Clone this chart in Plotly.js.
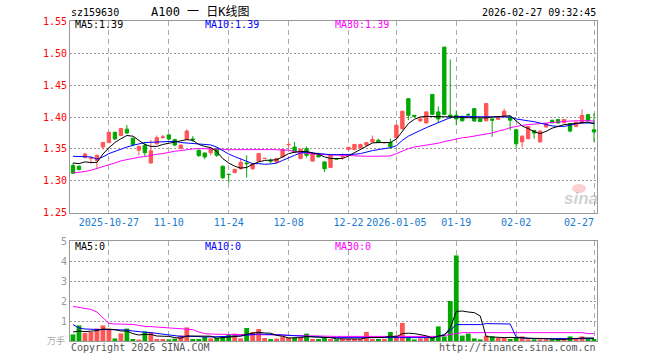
<!DOCTYPE html>
<html><head><meta charset="utf-8">
<script src="https://cdn.plot.ly/plotly-3.0.1.min.js"></script>
<style>html,body{margin:0;padding:0;background:#fff;}#chart{width:660px;height:360px;}</style>
</head><body><div id="chart"></div>
<script>
const dates = ['2025-10-17','2025-10-20','2025-10-21','2025-10-22','2025-10-23','2025-10-24','2025-10-27','2025-10-28','2025-10-29','2025-10-30','2025-10-31',
'2025-11-03','2025-11-04','2025-11-05','2025-11-06','2025-11-07','2025-11-10','2025-11-11','2025-11-12','2025-11-13','2025-11-14','2025-11-17','2025-11-18','2025-11-19','2025-11-20','2025-11-21','2025-11-24','2025-11-25','2025-11-26','2025-11-27','2025-11-28',
'2025-12-01','2025-12-02','2025-12-03','2025-12-04','2025-12-05','2025-12-08','2025-12-09','2025-12-10','2025-12-11','2025-12-12','2025-12-15','2025-12-16','2025-12-17','2025-12-18','2025-12-19','2025-12-22','2025-12-23','2025-12-24','2025-12-25','2025-12-26','2025-12-29','2025-12-30','2025-12-31',
'2026-01-05','2026-01-06','2026-01-07','2026-01-08','2026-01-09','2026-01-12','2026-01-13','2026-01-14','2026-01-15','2026-01-16','2026-01-19','2026-01-20','2026-01-21','2026-01-22','2026-01-23','2026-01-26','2026-01-27','2026-01-28','2026-01-29','2026-01-30',
'2026-02-02','2026-02-03','2026-02-04','2026-02-05','2026-02-06','2026-02-09','2026-02-10','2026-02-11','2026-02-12','2026-02-13','2026-02-24','2026-02-25','2026-02-26','2026-02-27'];

const openP = [1.324,1.323,1.337,1.335,1.332,1.353,1.360,1.376,1.371,1.381,
 1.3667,1.348,1.3557,1.328,1.358,1.368,1.372,1.3646,1.351,1.3646,
 1.3656,1.348,1.3437,1.344,1.351,1.323,1.3104,1.313,1.319,1.328,
 1.319,1.331,1.335,1.332,1.3295,1.3375,1.3565,1.353,1.335,1.3505,
 1.331,1.340,1.3297,1.321,1.335,1.3375,1.349,1.349,1.352,1.356,
 1.361,1.3635,1.3595,1.360,1.3677,1.382,1.4287,1.4026,1.394,1.3906,
 1.4354,1.408,1.5094,1.403,1.4026,1.401,1.4038,1.413,1.397,1.394,
 1.397,1.3964,1.401,1.400,1.380,1.361,1.366,1.379,1.361,1.3844,
 1.3948,1.396,1.391,1.3896,1.3854,1.391,1.4036,1.380];
const highP = [1.328,1.324,1.344,1.3375,1.341,1.361,1.377,1.377,1.383,1.3875,
 1.368,1.355,1.361,1.3646,1.371,1.372,1.373,1.366,1.357,1.381,
 1.370,1.349,1.344,1.352,1.352,1.324,1.311,1.319,1.335,1.340,
 1.328,1.344,1.336,1.335,1.336,1.3505,1.361,1.361,1.350,1.354,
 1.344,1.344,1.330,1.342,1.336,1.343,1.353,1.358,1.358,1.361,
 1.371,1.366,1.3605,1.366,1.389,1.410,1.429,1.403,1.401,1.409,
 1.436,1.4167,1.5094,1.490,1.4104,1.402,1.406,1.414,1.398,1.422,
 1.398,1.401,1.413,1.401,1.381,1.371,1.386,1.380,1.379,1.391,
 1.396,1.397,1.397,1.390,1.393,1.412,1.405,1.406];
const lowP = [1.311,1.316,1.335,1.327,1.319,1.349,1.359,1.364,1.370,1.373,
 1.354,1.340,1.3375,1.327,1.357,1.366,1.364,1.354,1.349,1.364,
 1.361,1.3375,1.3338,1.340,1.3375,1.303,1.297,1.312,1.318,1.305,
 1.317,1.330,1.334,1.328,1.327,1.337,1.3505,1.344,1.334,1.3365,
 1.330,1.337,1.314,1.320,1.333,1.333,1.348,1.348,1.351,1.355,
 1.360,1.359,1.359,1.350,1.367,1.380,1.395,1.399,1.392,1.390,
 1.403,1.3906,1.403,1.397,1.387,1.393,1.402,1.393,1.392,1.393,
 1.369,1.396,1.400,1.379,1.352,1.352,1.365,1.366,1.360,1.383,
 1.390,1.390,1.390,1.376,1.384,1.390,1.393,1.361];
const closeP = [1.312,1.318,1.342,1.336,1.340,1.360,1.376,1.3656,1.382,1.375,
 1.357,1.354,1.344,1.347,1.3677,1.3688,1.3656,1.356,1.356,1.378,
 1.3646,1.3396,1.3375,1.351,1.340,1.305,1.310,1.318,1.329,1.327,
 1.327,1.3427,1.3352,1.331,1.335,1.349,1.357,1.345,1.3495,1.340,
 1.3427,1.3375,1.319,1.341,1.334,1.338,1.3526,1.357,1.357,1.360,
 1.365,1.360,1.360,1.354,1.387,1.409,1.4026,1.401,1.397,1.408,
 1.4042,1.397,1.404,1.400,1.397,1.394,1.4034,1.3937,1.393,1.421,
 1.395,1.400,1.409,1.395,1.358,1.370,1.385,1.375,1.378,1.3896,
 1.391,1.3906,1.396,1.378,1.3917,1.4026,1.394,1.3766];

const ma5 = [1.328,1.327,1.3297,1.3287,1.329,1.342,1.352,1.360,1.366,1.371,
 1.370,1.3635,1.357,1.354,1.354,1.357,1.359,1.360,1.362,1.3646,
 1.3635,1.357,1.354,1.352,1.346,1.335,1.328,1.323,1.320,1.321,
 1.326,1.3297,1.332,1.332,1.333,1.3375,1.3427,1.3448,1.346,1.346,
 1.344,1.3417,1.3375,1.335,1.335,1.335,1.339,1.344,1.3495,1.355,
 1.3594,1.360,1.360,1.360,1.3656,1.378,1.3896,1.3964,1.400,1.401,
 1.401,1.401,1.401,1.400,1.400,1.399,1.399,1.3985,1.3985,1.3985,
 1.400,1.401,1.401,1.402,1.394,1.386,1.382,1.377,1.374,1.3775,
 1.3825,1.385,1.388,1.389,1.3895,1.391,1.392,1.3895];
const ma10 = [1.3385,1.3385,1.3385,1.3375,1.334,1.3375,1.3427,1.3464,1.3505,1.353,
 1.3557,1.3583,1.360,1.3604,1.361,1.361,1.3615,1.362,1.360,1.3594,
 1.3583,1.3583,1.3573,1.3563,1.353,1.347,1.342,1.338,1.334,1.330,
 1.327,1.327,1.326,1.3265,1.328,1.332,1.3365,1.340,1.3437,1.3448,
 1.3437,1.3427,1.3417,1.341,1.341,1.341,1.341,1.3417,1.3427,1.3453,
 1.3474,1.349,1.350,1.352,1.355,1.3635,1.370,1.374,1.379,1.3833,
 1.387,1.3906,1.3948,1.399,1.4005,1.401,1.401,1.4005,1.4005,1.4005,
 1.4005,1.401,1.401,1.400,1.397,1.395,1.394,1.3927,1.3906,1.3885,
 1.386,1.3854,1.3854,1.387,1.3896,1.3906,1.391,1.3906];
const ma30 = [1.3125,1.3135,1.3146,1.3167,1.3193,1.322,1.325,1.328,1.3313,1.3333,
 1.3354,1.337,1.338,1.340,1.3417,1.3427,1.3448,1.3464,1.3474,1.349,
 1.350,1.3505,1.3505,1.3505,1.3505,1.3495,1.3488,1.349,1.349,1.349,
 1.349,1.349,1.349,1.349,1.349,1.349,1.348,1.346,1.3445,1.343,
 1.342,1.3415,1.341,1.3405,1.340,1.3395,1.339,1.3385,1.3385,1.3385,
 1.3385,1.3385,1.3385,1.339,1.3427,1.347,1.3505,1.353,1.3545,1.3557,
 1.357,1.359,1.3615,1.3635,1.366,1.3675,1.3685,1.370,1.3713,1.373,
 1.375,1.378,1.380,1.3833,1.3854,1.387,1.388,1.389,1.3896,1.3906,
 1.3917,1.392,1.393,1.3937,1.3943,1.3943,1.3943,1.3937];

const volume = [0.33,0.78,0.40,0.45,0.62,0.78,0.62,0.13,0.38,0.62,
 0.10,0.07,0.48,0.42,0.10,0.10,0.08,0.12,0.28,0.68,
 0.10,0.10,0.20,0.13,0.17,0.23,0.33,0.37,0.13,0.65,
 0.45,0.60,0.15,0.10,0.12,0.23,0.17,0.17,0.17,0.37,
 0.10,0.10,0.17,0.10,0.08,0.10,0.10,0.10,0.10,0.45,
 0.10,0.10,0.10,0.45,0.28,0.90,0.15,0.08,0.13,0.15,
 0.17,0.73,0.23,2.00,4.28,0.27,0.37,0.13,0.08,0.27,
 0.23,0.15,0.15,0.10,0.17,0.23,0.08,0.08,0.08,0.08,
 0.08,0.08,0.10,0.23,0.10,0.23,0.10,0.10];
const volMa5 = [0.45,0.50,0.47,0.50,0.52,0.60,0.60,0.57,0.50,0.50,
 0.37,0.30,0.33,0.33,0.25,0.23,0.23,0.17,0.14,0.25,
 0.25,0.26,0.27,0.24,0.14,0.17,0.21,0.25,0.25,0.34,
 0.39,0.44,0.40,0.39,0.28,0.24,0.15,0.16,0.17,0.22,
 0.20,0.18,0.18,0.17,0.11,0.11,0.10,0.10,0.10,0.17,
 0.17,0.17,0.18,0.24,0.21,0.37,0.39,0.37,0.31,0.26,
 0.14,0.25,0.28,0.66,1.48,1.50,1.45,1.42,1.25,0.22,
 0.20,0.17,0.17,0.18,0.16,0.16,0.15,0.13,0.13,0.11,
 0.08,0.08,0.08,0.11,0.12,0.15,0.15,0.15];
const volMa10 = [0.82,0.65,0.60,0.58,0.57,0.57,0.57,0.57,0.55,0.55,
 0.50,0.46,0.44,0.42,0.38,0.34,0.30,0.25,0.23,0.24,
 0.24,0.22,0.20,0.20,0.20,0.21,0.23,0.25,0.25,0.29,
 0.32,0.35,0.34,0.31,0.31,0.30,0.28,0.26,0.26,0.23,
 0.19,0.18,0.18,0.17,0.17,0.17,0.17,0.17,0.17,0.17,
 0.17,0.17,0.17,0.17,0.17,0.17,0.17,0.17,0.17,0.17,
 0.17,0.23,0.33,0.53,0.82,0.82,0.82,0.82,0.82,0.87,
 0.87,0.87,0.87,0.85,0.20,0.15,0.13,0.12,0.12,0.12,
 0.12,0.12,0.12,0.12,0.12,0.12,0.12,0.12];
const volMa30 = [1.73,1.68,1.63,1.58,1.45,1.15,0.88,0.85,0.85,0.85,
 0.83,0.78,0.73,0.72,0.70,0.67,0.67,0.63,0.62,0.62,
 0.57,0.45,0.37,0.35,0.33,0.33,0.33,0.33,0.32,0.32,
 0.32,0.32,0.30,0.30,0.30,0.30,0.28,0.27,0.26,0.25,
 0.25,0.24,0.23,0.23,0.23,0.23,0.23,0.23,0.23,0.23,
 0.23,0.23,0.23,0.23,0.23,0.23,0.23,0.23,0.23,0.23,
 0.23,0.23,0.27,0.32,0.40,0.42,0.42,0.42,0.42,0.42,
 0.42,0.42,0.42,0.42,0.42,0.42,0.42,0.42,0.42,0.42,
 0.42,0.42,0.42,0.42,0.42,0.42,0.37,0.37];

const tickDates = ['2025-10-27','2025-11-10','2025-11-24','2025-12-08','2025-12-22','2026-01-05','2026-01-19','2026-02-02','2026-02-27'];
const tickLabels = ['2025-10-27','11-10','11-24','12-08','12-22','2026-01-05','01-19','02-02','02-27'];
const priceTicks = [1.25,1.30,1.35,1.40,1.45,1.50,1.55];
const volTicks = [1,2,3,4,5];

const MONO = '"DejaVu Sans Mono", "Noto Sans CJK SC", monospace';
const RED = '#ff5555', GREEN = '#00a800';
const W=660,H=360,L=70,R=63,T=21,B=19;
const PW=W-L-R, PH=H-T-B;
const px = x => (x-L)/PW;
const py = y => (H-B-y)/PH;
function ann(text,x,y,color,size,xanchor){
  return {text:text,x:px(x),y:py(y),xref:'paper',yref:'paper',xanchor:xanchor||'left',yanchor:'middle',
    showarrow:false,borderpad:0,font:{family:MONO,size:size||10,color:color}};
}

const tickText = tickLabels.map((t,i)=> i===tickLabels.length-1 ? t+'\u00a0\u00a0\u00a0\u00a0\u00a0' : t);
const volColors = closeP.map((c,i)=> c>=openP[i] ? RED : GREEN);

const traces = [
  {type:'candlestick',x:dates,open:openP,high:highP,low:lowP,close:closeP,xaxis:'x',yaxis:'y',
   increasing:{line:{color:RED,width:1},fillcolor:RED},decreasing:{line:{color:GREEN,width:1},fillcolor:GREEN},
   whiskerwidth:0,hoverinfo:'skip'},
  {type:'scatter',mode:'lines',x:dates,y:ma30,xaxis:'x',yaxis:'y',line:{color:'#ff00ff',width:1},hoverinfo:'skip'},
  {type:'scatter',mode:'lines',x:dates,y:ma10,xaxis:'x',yaxis:'y',line:{color:'#0000ff',width:1},hoverinfo:'skip'},
  {type:'scatter',mode:'lines',x:dates,y:ma5,xaxis:'x',yaxis:'y',line:{color:'#000000',width:1},hoverinfo:'skip'},
  {type:'bar',x:dates,y:volume,xaxis:'x2',yaxis:'y2',marker:{color:volColors,line:{width:0}},hoverinfo:'skip'},
  {type:'scatter',mode:'lines',x:dates,y:volMa30,xaxis:'x2',yaxis:'y2',line:{color:'#ff00ff',width:1},hoverinfo:'skip'},
  {type:'scatter',mode:'lines',x:dates,y:volMa10,xaxis:'x2',yaxis:'y2',line:{color:'#0000ff',width:1},hoverinfo:'skip'},
  {type:'scatter',mode:'lines',x:dates,y:volMa5,xaxis:'x2',yaxis:'y2',line:{color:'#000000',width:1},hoverinfo:'skip'}
];

const xCommon = {type:'category',range:[-0.5,dates.length-0.5],tickmode:'array',tickvals:tickDates,
  showgrid:true,gridcolor:'#aaaaaa',griddash:'5px,4px',gridwidth:1,showline:true,mirror:true,
  linecolor:'#999999',linewidth:1,ticks:'',zeroline:false,fixedrange:true};

const layout = {
  width:W,height:H,margin:{l:L,r:R,t:T,b:B},paper_bgcolor:'#ffffff',plot_bgcolor:'#ffffff',
  showlegend:false,hovermode:false,boxgap:0.2,bargap:0.2,
  font:{family:MONO,size:10,color:'#000'},
  xaxis:Object.assign({},xCommon,{domain:[0,1],anchor:'y',ticktext:tickText,showticklabels:true,
    tickfont:{family:MONO,size:10,color:'#1a7ad0'},rangeslider:{visible:false}}),
  yaxis:{domain:[0.4,1],anchor:'x',range:[1.2497,1.5503],tickmode:'array',tickvals:priceTicks,
    ticktext:priceTicks.map(v=>v.toFixed(2)),showgrid:true,gridcolor:'#999999',griddash:'2px,2px',gridwidth:1,
    showline:true,mirror:true,linecolor:'#999999',linewidth:1,ticks:'',zeroline:false,fixedrange:true,
    tickfont:{family:MONO,size:10,color:'#ff0000'}},
  xaxis2:Object.assign({},xCommon,{domain:[0,1],anchor:'y2',ticktext:tickText,showticklabels:false,rangeslider:{visible:false}}),
  yaxis2:{domain:[0,0.3125],anchor:'x2',range:[0,5.003],tickmode:'array',tickvals:volTicks,
    ticktext:volTicks.map(String),showgrid:true,gridcolor:'#999999',griddash:'2px,2px',gridwidth:1,
    showline:true,mirror:true,linecolor:'#999999',linewidth:1,ticks:'',zeroline:false,fixedrange:true,
    tickfont:{family:MONO,size:10,color:'#999999'}},
  annotations:[
    ann('sz159630',70,12.5,'#000',10,'left'),
    ann('A100 一 日K线图',200,12,'#000',12,'center'),
    ann('2026-02-27 09:32:45',597,12.5,'#000',10,'right'),
    ann('MA5:1.39',74,25,'#000000',10,'left'),
    ann('MA10:1.39',204,25,'#0000ff',10,'left'),
    ann('MA30:1.39',334,25,'#ff00ff',10,'left'),
    ann('MA5:0',74,246,'#000000',10,'left'),
    ann('MA10:0',204,246,'#0000ff',10,'left'),
    ann('MA30:0',334,246,'#ff00ff',10,'left'),
    ann('万手',66,340,'#aaaaaa',9,'right'),
    ann('Copyright 2026 SINA.COM',70,347,'#555555',10,'left'),
    ann('http://finance.sina.com.cn',597,347,'#555555',10,'right'),
    {text:'sina',x:px(581),y:py(198),xref:'paper',yref:'paper',xanchor:'center',yanchor:'middle',showarrow:false,
     font:{family:'"Liberation Sans", sans-serif',size:17,color:'rgba(170,170,170,0.55)',weight:'bold',style:'italic'}}
  ],
  shapes:[
    {type:'circle',xref:'paper',yref:'paper',x0:px(572),x1:px(586),y0:py(193),y1:py(184),
     fillcolor:'rgba(240,120,120,0.35)',line:{width:0}}
  ]
};

Plotly.newPlot('chart',traces,layout,{displayModeBar:false,staticPlot:true});
</script></body></html>
